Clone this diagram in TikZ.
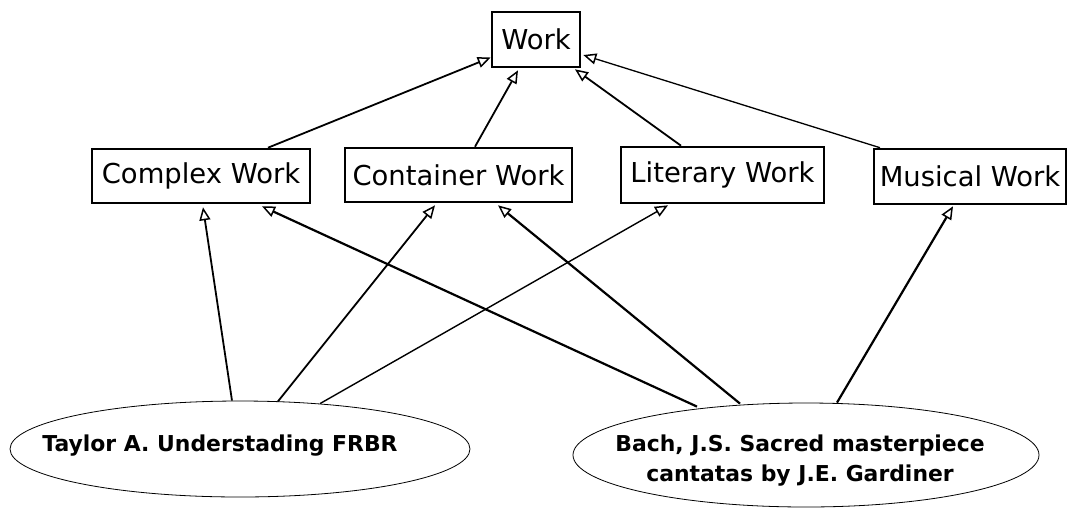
\documentclass[tikz,border=0pt]{standalone}
\usepackage{fontspec}
\setmainfont{DejaVu Sans}
\usetikzlibrary{arrows.meta,shapes.geometric}
\begin{document}
\begin{tikzpicture}[x=1pt,y=-1pt,
  box/.style={draw,line width=2.6pt,inner sep=0pt,font=\fontsize{27.4}{32}\selectfont},
  ell/.style={draw,ellipse,line width=0.8pt,inner sep=0pt},
  etext/.style={inner sep=0pt,font=\fontsize{21.9}{30}\selectfont\bfseries},
  arr/.style={line width=1.8pt,-{Triangle[open,length=13pt,width=11pt,line width=1.5pt]}}]
\useasboundingbox (0,0) rectangle (1068,507);
\node[box,minimum width=88pt,minimum height=55pt] (w) at (536,39.5) {Work};
\node[box,minimum width=218pt,minimum height=54pt] (cx) at (201,176) {Complex Work};
\node[box,minimum width=227pt,minimum height=54pt] (ct) at (458.5,175) {Container Work};
\node[box,minimum width=203pt,minimum height=56pt] (li) at (722.5,175) {Literary Work};
\node[box,minimum width=192pt,minimum height=55pt] (mu) at (970,176.5) {Musical Work};
\node[ell,minimum width=460pt,minimum height=96pt] (t) at (240,449) {};
\node[ell,minimum width=466pt,minimum height=104pt] (b) at (806,455) {};
\node[etext,anchor=base] (tt) at (220,451.7) {Taylor A. Understading FRBR};
\node[etext,align=center] (bt) at (800,461) {Bach, J.S. Sacred masterpiece\\cantatas by J.E. Gardiner};
% upper connectors
\draw[arr] ([xshift=67pt]cx.north) -- ([yshift=-18pt]w.west);
\draw[arr] ([xshift=16.5pt]ct.north) -- ([xshift=-18pt,yshift=-2pt]w.south);
\draw[arr] ([xshift=-41.5pt]li.north) -- ([xshift=39pt,yshift=-1pt]w.south);
\draw[arr,line width=1.3pt] ([xshift=-90pt]mu.north) -- ([xshift=2pt,yshift=-15.5pt]w.east);
% lower connectors
\draw[arr] ([xshift=-8pt]t.north) -- ([xshift=2pt,yshift=-3pt]cx.south);
\draw[arr] ([xshift=38pt,yshift=-0.7pt]t.north) -- ([xshift=-23.5pt,yshift=-2pt]ct.south);
\draw[arr,line width=1.4pt] ([xshift=80pt,yshift=-3pt]t.north) -- ([xshift=-54.5pt,yshift=-1pt]li.south);
\draw[arr,line width=2.2pt] ([xshift=-109pt,yshift=-4pt]b.north) -- ([xshift=61pt,yshift=-2pt]cx.south);
\draw[arr,line width=2.2pt] ([xshift=-66pt,yshift=-1pt]b.north) -- ([xshift=39.5pt,yshift=-2pt]ct.south);
\draw[arr,line width=2.2pt] ([xshift=31pt]b.north) -- ([xshift=-17pt,yshift=-1pt]mu.south);
\end{tikzpicture}
\end{document}
